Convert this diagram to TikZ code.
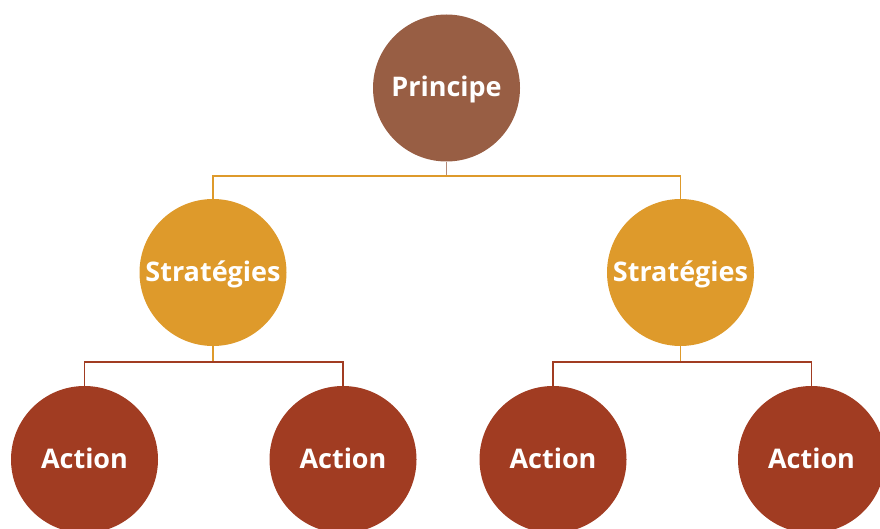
\documentclass[tikz,border=0pt]{standalone}
\usepackage{fontspec}
\setmainfont{Open Sans}
\definecolor{cprin}{HTML}{985E44}
\definecolor{cstrat}{HTML}{DE9A2B}
\definecolor{cact}{HTML}{A13C22}
\definecolor{cstub}{HTML}{B48A78}
\begin{document}
\begin{tikzpicture}[x=1pt,y=-1pt,
  bubble/.style={circle,minimum size=147pt,inner sep=0pt,text=white,text height=17pt,text depth=0pt,font=\fontsize{27}{30}\selectfont\bfseries},
  link/.style={line width=1.2pt}]
\useasboundingbox (0,0) rectangle (880,529);
\begin{scope}
\clip (0,0) rectangle (880,529);
\node[bubble,fill=cprin] (p) at (446.5,88) {Principe};
\node[bubble,fill=cstrat] (s1) at (213,272.5) {Stratégies};
\node[bubble,fill=cstrat] (s2) at (680.5,272.5) {Stratégies};
\node[bubble,fill=cact] (a1) at (84.5,459.5) {Action};
\node[bubble,fill=cact] (a2) at (343,459.5) {Action};
\node[bubble,fill=cact] (a3) at (553,459.5) {Action};
\node[bubble,fill=cact] (a4) at (811.5,459.5) {Action};
\end{scope}
\coordinate (jp) at (446.5,176);
\coordinate (j1) at (213,362);
\coordinate (j2) at (680.5,362);
\draw[link,cstub] (p.south) -- (jp);
\draw[link,cstrat] (s1.north) -- (s1.north |- jp) -- (s2.north |- jp) -- (s2.north);
\draw[link,cstrat] (s1.south) -- (j1);
\draw[link,cstrat] (s2.south) -- (j2);
\draw[link,cact] (a1.north) -- (a1.north |- j1) -- (a2.north |- j1) -- (a2.north);
\draw[link,cact] (a3.north) -- (a3.north |- j2) -- (a4.north |- j2) -- (a4.north);
\end{tikzpicture}
\end{document}
